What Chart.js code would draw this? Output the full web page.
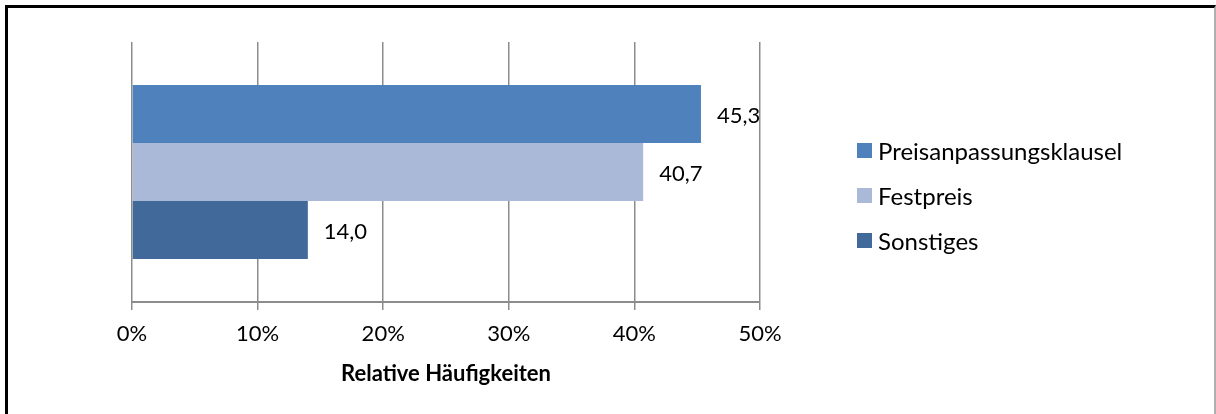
<!DOCTYPE html>
<html>
<head>
<meta charset="utf-8">
<script src="https://cdn.jsdelivr.net/npm/chart.js@4/dist/chart.umd.min.js"></script>
<style>
  html, body { margin: 0; padding: 0; background: #fff; }
  #wrap { position: relative; width: 1216px; height: 414px; overflow: hidden; }
  #c { position: absolute; left: 0; top: 0; }
  #frame {
    position: absolute; left: 5px; top: 5px; width: 1206px; height: 420px;
    border-top: 3px solid #000; border-left: 3px solid #000; border-right: 2px solid #b0b0b0;
    pointer-events: none;
  }
  #legend {
    position: absolute; left: 857px; top: 128px;
    font-family: Lato, "Open Sans", sans-serif; font-size: 24px; color: #000;
  }
  #legend .item { display: flex; align-items: center; height: 45px; }
  #legend .box { width: 15px; height: 15px; margin-right: 6px; }
</style>
</head>
<body>
<div id="wrap">
  <canvas id="c" width="1216" height="414"></canvas>
  <div id="legend"></div>
  <div id="frame"></div>
</div>
<script>
// Relative Häufigkeiten je Preisgestaltung (in %)
const categories = [''];
const seriesNames = ['Preisanpassungsklausel', 'Festpreis', 'Sonstiges'];
const seriesValues = [45.3, 40.7, 14.0];
const seriesColors = ['#4f81bd', '#aab9d7', '#416a9b'];
const xTicks = [0, 10, 20, 30, 40, 50];

const FONT = 'Lato, "Open Sans", sans-serif';
const GRID = '#8c8c8c';

// Datenbeschriftungen rechts neben den Balken
const valueLabels = {
  id: 'valueLabels',
  afterDatasetsDraw(chart) {
    const ctx = chart.ctx;
    ctx.save();
    ctx.font = '22px ' + FONT;
    ctx.fillStyle = '#000';
    ctx.textBaseline = 'middle';
    chart.data.datasets.forEach((ds, i) => {
      chart.getDatasetMeta(i).data.forEach((bar, j) => {
        const txt = ds.data[j].toFixed(1).replace('.', ',');
        ctx.fillText(txt, bar.x + 16, bar.y + 2);
      });
    });
    ctx.restore();
  },
};

new Chart(document.getElementById('c'), {
  type: 'bar',
  data: {
    labels: categories,
    datasets: seriesNames.map((name, i) => ({
      label: name,
      data: [seriesValues[i]],
      backgroundColor: seriesColors[i],
      borderWidth: 0,
      barPercentage: 1,
      categoryPercentage: 0.67,
    })),
  },
  options: {
    indexAxis: 'y',
    responsive: false,
    animation: false,
    layout: { padding: { left: 132, right: 456, top: 42, bottom: 0 } },
    plugins: { legend: { display: false }, tooltip: { enabled: false } },
    scales: {
      y: { display: false },
      x: {
        min: 0, max: 50,
        afterBuildTicks: (s) => { s.ticks = xTicks.map(v => ({ value: v })); },
        afterFit: (s) => { s.height = 112; },
        grid: { color: GRID, lineWidth: 1.5, tickLength: 8 },
        border: { color: GRID, width: 2 },
        ticks: {
          color: '#000', padding: 11,
          font: { family: FONT, size: 22 },
          callback: (v) => v + '%',
        },
        title: {
          display: true, text: 'Relative Häufigkeiten', color: '#000',
          font: { family: FONT, size: 22, weight: 'bold' },
          padding: { top: 0, bottom: 27 },
        },
      },
    },
  },
  plugins: [valueLabels],
});

// Legende als HTML aus denselben Arrays
const leg = document.getElementById('legend');
seriesNames.forEach((name, i) => {
  const it = document.createElement('div');
  it.className = 'item';
  it.innerHTML = '<span class="box" style="background:' + seriesColors[i] + '"></span><span>' + name + '</span>';
  leg.appendChild(it);
});
</script>
</body>
</html>
